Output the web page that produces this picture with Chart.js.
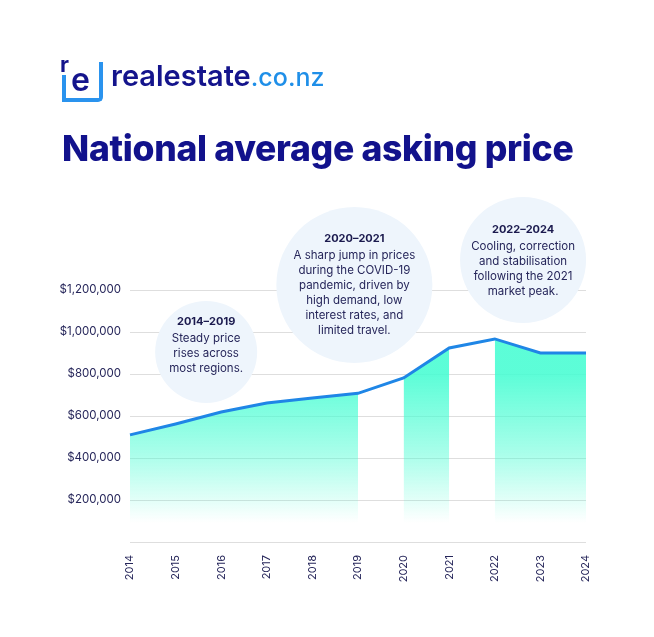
<!DOCTYPE html>
<html>
<head>
<meta charset="utf-8">
<script src="https://cdn.jsdelivr.net/npm/chart.js@4.4.1/dist/chart.umd.min.js"></script>
<style>
html, body { margin: 0; padding: 0; background: #fff; }
#wrap { position: relative; width: 654px; height: 637px; overflow: hidden; font-family: Inter, "Noto Sans", sans-serif; }
#chart { position: absolute; left: 0; top: 0; }
.logo-icon { position: absolute; left: 62px; top: 62px; width: 33px; height: 36px; border: 4px solid #2a93ee; border-top: none; border-bottom-right-radius: 5px; }
.logo-icon .r { position: absolute; left: -6px; top: -9px; font-size: 22px; font-weight: 700; color: #14148c; background: #fff; line-height: 22px; padding-right: 2px; }
.logo-icon .e { position: absolute; left: 5px; top: 2px; font-size: 32px; font-weight: 600; color: #14148c; line-height: 32px; }
.logo-text { position: absolute; left: 111px; top: 58px; font-size: 29px; font-weight: 600; color: #14148c; letter-spacing: 0px; }
.logo-text b { font-weight: 500; color: #1f8fe8; font-size: 25px; }
h1 { position: absolute; left: 62px; top: 127px; margin: 0; font-size: 35.5px; font-weight: 800; color: #12128c; letter-spacing: -0.3px; white-space: nowrap; }
</style>
</head>
<body>
<div id="wrap">
  <canvas id="chart" width="654" height="637"></canvas>
  <div class="logo-icon"><span class="r">r</span><span class="e">e</span></div>
  <div class="logo-text">realestate<b>.co.nz</b></div>
  <h1>National average asking price</h1>
</div>
<script>
// data
const years = ['2014', '2015', '2016', '2017', '2018', '2019', '2020', '2021', '2022', '2023', '2024'];
const askingPrice = [510000, 562000, 619000, 662000, 686000, 708000, 781000, 924000, 967000, 900000, 900000];
// shaded stretches (first and last year index)
const shadedRanges = [[0, 5], [6, 7], [8, 10]];

const noteTitles = ['2014–2019', '2020–2021', '2022–2024'];
const noteLines = [
    ['Steady price', 'rises across', 'most regions.'],
    ['A sharp jump in prices', 'during the COVID-19', 'pandemic, driven by', 'high demand, low', 'interest rates, and', 'limited travel.'],
    ['Cooling, correction', 'and stabilisation', 'following the 2021', 'market peak.']
];

// bubble placement, in axis units (x = year index)
const noteSpots = [
    { x: 1.67, y: 905000, r: 51, dy: -7 },
    { x: 4.92, y: 1224000, r: 78, dy: 0 },
    { x: 8.62, y: 1343000, r: 63, dy: 1 }
];

const NAVY = '#26265a';

function mintFill(ctx) {
    const chart = ctx.chart;
    if (!chart.chartArea) return 'rgba(72,252,210,0.85)';
    const y = chart.scales.y;
    const g = chart.ctx.createLinearGradient(0, y.getPixelForValue(800000), 0, y.getPixelForValue(90000));
    g.addColorStop(0, 'rgba(70,253,210,0.88)');
    g.addColorStop(0.55, 'rgba(70,253,210,0.45)');
    g.addColorStop(1, 'rgba(70,253,210,0)');
    return g;
}

//
// one fill-only dataset per shaded stretch
//
let datasets = [{
    data: askingPrice,
    borderColor: '#1f86e6',
    borderWidth: 3,
    pointRadius: 0,
    fill: false,
    tension: 0
}];
shadedRanges.forEach(function (r) {
    datasets.push({
        data: askingPrice.map((v, i) => (i >= r[0] && i <= r[1]) ? v : null),
        borderWidth: 0,
        borderColor: 'rgba(0,0,0,0)',
        backgroundColor: mintFill,
        pointRadius: 0,
        fill: 'origin',
        spanGaps: false,
        tension: 0
    });
});

//
// bubbles with notes, drawn over the grid and under the data
//
const notesPlugin = {
    id: 'notes',
    beforeDatasetsDraw(chart) {
        const c = chart.ctx, xs = chart.scales.x, ys = chart.scales.y;
        c.save();
        noteSpots.forEach(function (s, k) {
            const cx = xs.getPixelForValue(s.x), cy = ys.getPixelForValue(s.y);
            c.beginPath();
            c.arc(cx, cy, s.r, 0, Math.PI * 2);
            c.fillStyle = '#eef5fc';
            c.fill();
            const lines = noteLines[k];
            const total = 17 + (lines.length - 1) * 15;
            let ty = cy - total / 2 + s.dy;
            c.textAlign = 'center';
            c.textBaseline = 'middle';
            c.fillStyle = '#1b1a4e';
            c.font = '700 11px Inter';
            c.fillText(noteTitles[k], cx, ty);
            ty += 17;
            c.fillStyle = NAVY;
            c.font = '400 11.5px Inter';
            lines.forEach(function (l) {
                c.fillText(l, cx, ty);
                ty += 15;
            });
        });
        c.restore();
    }
};

new Chart(document.getElementById('chart'), {
    type: 'line',
    data: { labels: years, datasets: datasets },
    plugins: [notesPlugin],
    options: {
        responsive: false,
        animation: false,
        layout: { padding: { left: 60, right: 68, top: 290, bottom: 45 } },
        plugins: { legend: { display: false }, tooltip: { enabled: false } },
        scales: {
            x: {
                offset: false,
                grid: { display: false },
                border: { display: false },
                afterFit(scale) { scale.height = 50; },
                ticks: {
                    minRotation: 90, maxRotation: 90, padding: 5,
                    color: NAVY, font: { family: 'Inter', size: 11 }
                }
            },
            y: {
                min: 0, max: 1200000,
                afterFit(scale) { scale.width = 70; },
                grid: { color: '#dedede', lineWidth: 1, drawTicks: false },
                border: { display: false },
                ticks: {
                    stepSize: 200000, padding: 9,
                    color: NAVY, font: { family: 'Inter', size: 11.5 },
                    callback: (v) => v === 0 ? '' : '$' + v.toLocaleString('en-US')
                }
            }
        }
    }
});
</script>
</body>
</html>
